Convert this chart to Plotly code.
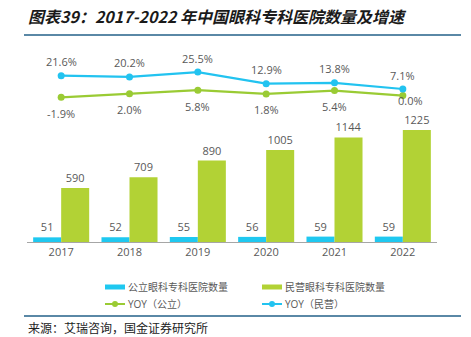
import plotly.graph_objects as go

years = ["2017", "2018", "2019", "2020", "2021", "2022"]
public_count = [51, 52, 55, 56, 59, 59]
private_count = [590, 709, 890, 1005, 1144, 1225]
yoy_public = [-1.9, 2.0, 5.8, 1.8, 5.4, 0.0]
yoy_private = [21.6, 20.2, 25.5, 12.9, 13.8, 7.1]

BLUE_BAR = "#1fc8f0"
GREEN_BAR = "#b2d235"
BLUE_LINE = "#22c3f0"
GREEN_LINE = "#9acb34"
TEXT = "#595959"
RULE = "#5a88a6"
FONT = "Open Sans, Noto Sans CJK SC, sans-serif"

W, H = 471, 337
L, R, T, B = 27, 34, 40, 95
PW, PH = W - L - R, H - T - B


def px_x(x):
    return (x - L) / PW


def px_y(y):
    return (H - B - y) / PH


fig = go.Figure()

fig.add_trace(go.Bar(
    x=years, y=public_count, name="公立眼科专科医院数量",
    marker=dict(color=BLUE_BAR, line=dict(width=0)),
    text=[str(v) for v in public_count], textposition="outside",
    textfont=dict(size=11, color=TEXT, family=FONT),
    constraintext="none", cliponaxis=False, showlegend=False,
))
fig.add_trace(go.Bar(
    x=years, y=private_count, name="民营眼科专科医院数量",
    marker=dict(color=GREEN_BAR, line=dict(width=0)),
    text=[str(v) for v in private_count], textposition="outside",
    textfont=dict(size=11, color=TEXT, family=FONT),
    constraintext="none", cliponaxis=False, showlegend=False,
))

fig.add_trace(go.Scatter(
    x=years, y=yoy_public, name="YOY（公立）", yaxis="y2",
    mode="lines+markers",
    line=dict(color=GREEN_LINE, width=2.2),
    marker=dict(color=GREEN_LINE, size=7),
    cliponaxis=False, showlegend=False,
))
fig.add_trace(go.Scatter(
    x=years, y=yoy_private, name="YOY（民营）", yaxis="y2",
    mode="lines+markers",
    line=dict(color=BLUE_LINE, width=2.2),
    marker=dict(color=BLUE_LINE, size=7),
    cliponaxis=False, showlegend=False,
))

# growth-rate labels (x given as category index): private above, public below
for i, v in enumerate(yoy_private):
    fig.add_annotation(
        x=i, y=v, xref="x", yref="y2", text=f"{v:.1f}%", showarrow=False,
        yshift=14, font=dict(size=11, color=TEXT, family=FONT),
    )
for i, v in enumerate(yoy_public):
    last = i == len(yoy_public) - 1
    fig.add_annotation(
        x=i, y=v, xref="x", yref="y2", text=f"{v:.1f}%", showarrow=False,
        yshift=-5 if last else -16, xshift=8 if last else 0,
        font=dict(size=11, color=TEXT, family=FONT),
    )

fig.update_layout(
    width=W, height=H,
    margin=dict(l=L, r=R, t=T, b=B),
    paper_bgcolor="white", plot_bgcolor="white",
    barmode="group", bargap=0.18, bargroupgap=0,
    font=dict(family=FONT, color=TEXT, size=11),
    xaxis=dict(
        type="category",
        showline=True, linecolor="#a6a6a6", linewidth=1.2,
        ticks="", showgrid=False, zeroline=False,
        tickfont=dict(size=11, color=TEXT),
    ),
    yaxis=dict(range=[0, 2209], visible=False, showgrid=False, zeroline=False),
    yaxis2=dict(range=[-159, 60.3], overlaying="y", visible=False,
                showgrid=False, zeroline=False),
    showlegend=False,
)

# legend: two columns, swatches for the bars and line+dot keys for the rates
legend_items = [
    ("公立眼科专科医院数量", BLUE_BAR, "bar", 105, 287),
    ("民营眼科专科医院数量", GREEN_BAR, "bar", 262, 287),
    ("YOY（公立）", GREEN_LINE, "line", 105, 304),
    ("YOY（民营）", BLUE_LINE, "line", 262, 304),
]
for label, color, kind, lx, ly in legend_items:
    if kind == "bar":
        fig.add_shape(
            type="rect", xref="paper", yref="paper",
            x0=px_x(lx), x1=px_x(lx + 20), y0=px_y(ly - 2.5), y1=px_y(ly + 2.5),
            fillcolor=color, line=dict(width=0),
        )
    else:
        fig.add_shape(
            type="line", xref="paper", yref="paper",
            x0=px_x(lx), x1=px_x(lx + 20), y0=px_y(ly), y1=px_y(ly),
            line=dict(color=color, width=2),
        )
        fig.add_shape(
            type="circle", xref="paper", yref="paper",
            x0=px_x(lx + 7), x1=px_x(lx + 13), y0=px_y(ly - 3), y1=px_y(ly + 3),
            fillcolor=color, line=dict(width=0),
        )
    fig.add_annotation(
        text=label, xref="paper", yref="paper", x=px_x(lx + 21), y=px_y(ly),
        xanchor="left", yanchor="middle", showarrow=False,
        font=dict(size=10, color=TEXT, family=FONT),
    )

fig.add_annotation(
    text="图表39：2017-2022 年中国眼科专科医院数量及增速",
    xref="paper", yref="paper", x=px_x(26), y=px_y(16),
    xanchor="left", yanchor="middle", showarrow=False,
    font=dict(family="Noto Sans CJK SC", size=16, color="#1a1a1a",
              weight="bold", style="italic"),
)
fig.add_annotation(
    text="来源：艾瑞咨询，国金证券研究所",
    xref="paper", yref="paper", x=px_x(26), y=px_y(327),
    xanchor="left", yanchor="middle", showarrow=False,
    font=dict(family="Noto Sans CJK SC", size=12, color="#222222"),
)

for y in (35, 316):
    fig.add_shape(
        type="line", xref="paper", yref="paper",
        x0=px_x(24), x1=px_x(461), y0=px_y(y), y1=px_y(y),
        line=dict(color=RULE, width=2),
    )

fig.write_html("out.html")
